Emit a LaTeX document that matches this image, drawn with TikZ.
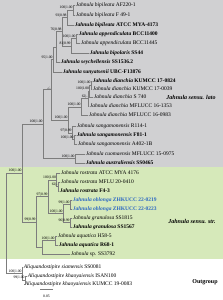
\documentclass[tikz,border=0pt]{standalone}
\usepackage{fontspec}
\setmainfont{Liberation Serif}
\usepackage{xcolor}
\usetikzlibrary{positioning}
\definecolor{latobg}{RGB}{208,208,210}
\definecolor{strictbg}{RGB}{214,233,186}
\definecolor{branchgray}{RGB}{125,125,125}
\definecolor{newblue}{RGB}{45,105,195}

\begin{document}
\begin{tikzpicture}[x=2pt,y=-2pt,
  branch/.style={draw=branchgray,line width=0.8pt},
  taxon/.style={anchor=west,inner xsep=1.5pt,inner ysep=0pt,font=\fontsize{11}{12}\selectfont},
  keytaxon/.style={taxon,font=\fontsize{11}{12}\selectfont\bfseries},
  newtaxon/.style={keytaxon,text=newblue},
  supp/.style={anchor=south east,inner sep=0.6pt,font=\fontsize{7.5}{8}\selectfont},
  cladelab/.style={font=\fontsize{12}{14}\selectfont\bfseries\itshape}]

  % shaded clades
  \fill[latobg] (0,0) rectangle (223,167);
  \fill[strictbg] (0,167) rectangle (223,259);
  \useasboundingbox (0,0) rectangle (223,300);

  % taxa, Jahnula sensu lato
  \node[taxon]    (bip1) at (75,5)   {\textit{Jahnula bipileata} AF220-1};
  \node[taxon]    (bip2) at (75,15)  {\textit{Jahnula bipileata} F 49-1};
  \node[keytaxon] (bip3) at (74,25)  {\textit{Jahnula bipileata} ATCC MYA-4173};
  \node[keytaxon] (app1) at (78,34)  {\textit{Jahnula appendiculata} BCC11400};
  \node[taxon]    (app2) at (80,43)  {\textit{Jahnula appendiculata} BCC11445};
  \node[keytaxon] (bipo) at (89,53)  {\textit{Jahnula bipolaris} SS44};
  \node[keytaxon] (sey)  at (60,62)  {\textit{Jahnula seychellensis} SS1536.2};
  \node[keytaxon] (sun)  at (62,72)  {\textit{Jahnula sunyatsenii} UBC-F13876};
  \node[keytaxon] (dia1) at (92,81)  {\textit{Jahnula dianchia} KUMCC 17-0824};
  \node[taxon]    (dia2) at (92,89)  {\textit{Jahnula dianchia} KUMCC 17-0039};
  \node[taxon]    (dia3) at (93,97)  {\textit{Jahnula dianchia} S 740};
  \node[taxon]    (dia4) at (89,106) {\textit{Jahnula dianchia} MFLUCC 16-1353};
  \node[taxon]    (dia5) at (88,115) {\textit{Jahnula dianchia} MFLUCC 16-0983};
  \node[taxon]    (san1) at (76,126) {\textit{Jahnula sangamonensis} R114-1};
  \node[keytaxon] (san2) at (76,135) {\textit{Jahnula sangamonensis} F81-1};
  \node[taxon]    (san3) at (77,144) {\textit{Jahnula sangamonensis} A402-1B};
  \node[taxon]    (cuo)  at (85,154) {\textit{Jahnula cuomaensis} MFLUCC 15-0975};
  \node[keytaxon] (aus)  at (85,163) {\textit{Jahnula australiensis} SS0465};

  % taxa, Jahnula sensu stricto
  \node[taxon]    (ros1) at (60,173) {\textit{Jahnula rostrata} ATCC MYA 4176};
  \node[taxon]    (ros2) at (60,182) {\textit{Jahnula rostrata} MFLU 20-0410};
  \node[keytaxon] (ros3) at (59,191) {\textit{Jahnula rostrata} F4-3};
  \node[newtaxon] (obl1) at (72,200) {\textit{Jahnula oblonga} ZHKUCC 22-0219};
  \node[newtaxon] (obl2) at (72,209) {\textit{Jahnula oblonga} ZHKUCC 22-0223};
  \node[taxon]    (gra1) at (72,218) {\textit{Jahnula granulosa} SS1815};
  \node[keytaxon] (gra2) at (72,227) {\textit{Jahnula granulosa} SS1567};
  \node[taxon]    (aqu1) at (57,236) {\textit{Jahnula aquatica} H58-5};
  \node[keytaxon] (aqu2) at (58,245) {\textit{Jahnula aquatica} R68-1};
  \node[taxon]    (jsp)  at (70,254) {\textit{Jahnula} sp. SS3792};

  % taxa, outgroup
  \node[taxon] (ali1) at (23,267) {\textit{Aliquandostipite siamensis} SS0081};
  \node[taxon] (ali2) at (27,276) {\textit{Aliquandostipite khaoyaiensis} ISAN100};
  \node[taxon] (ali3) at (24,284) {\textit{Aliquandostipite khaoyaiensis} KUMCC 19-0083};

  % internal nodes
  \coordinate (nBipA)    at (73,10);
  \coordinate (nBipB)    at (67,17.5);
  \coordinate (nApp)     at (76,38.5);
  \coordinate (nAppBipo) at (71,45.75);
  \coordinate (nBip)     at (62,31.6);
  \coordinate (nSey)     at (56,46.8);
  \coordinate (nSun)     at (53,59.4);
  \coordinate (nDiaA)    at (91,85);
  \coordinate (nDiaB)    at (89.5,91);
  \coordinate (nDiaC)    at (88,98.5);
  \coordinate (nDia)     at (81,106.75);
  \coordinate (nSanA)    at (74,139.5);
  \coordinate (nSan)     at (72,132.75);
  \coordinate (nDS)      at (68,119.75);
  \coordinate (nLatoA)   at (51,89.6);
  \coordinate (nCuo)     at (75,158.5);
  \coordinate (nLato)    at (43,124);
  \coordinate (nRosA)    at (58,186.5);
  \coordinate (nRos)     at (56.5,179.75);
  \coordinate (nObl)     at (70,204.5);
  \coordinate (nGra)     at (70,222.5);
  \coordinate (nOG)      at (63,213.5);
  \coordinate (nStrA)    at (48,196.6);
  \coordinate (nAqu)     at (55,240.5);
  \coordinate (nAquSp)   at (42,247.25);
  \coordinate (nStr)     at (36,221.9);
  \coordinate (nJah)     at (22,173);
  \coordinate (nAliA)    at (25,280);
  \coordinate (nAli)     at (22,273.5);
  \coordinate (nRoot)    at (6,223.2);

  % branches
  \foreach \p/\c in {nBipA/bip1,nBipA/bip2,nBipB/nBipA,nBipB/bip3,
                     nApp/app1,nApp/app2,nAppBipo/nApp,nAppBipo/bipo,
                     nBip/nBipB,nBip/nAppBipo,nSey/nBip,nSey/sey,
                     nSun/nSey,nSun/sun,
                     nDiaA/dia1,nDiaA/dia2,nDiaB/nDiaA,nDiaB/dia3,
                     nDiaC/nDiaB,nDiaC/dia4,nDia/nDiaC,nDia/dia5,
                     nSanA/san2,nSanA/san3,nSan/san1,nSan/nSanA,
                     nDS/nDia,nDS/nSan,nLatoA/nSun,nLatoA/nDS,
                     nCuo/cuo,nCuo/aus,nLato/nLatoA,nLato/nCuo,
                     nRosA/ros2,nRosA/ros3,nRos/ros1,nRos/nRosA,
                     nObl/obl1,nObl/obl2,nGra/gra1,nGra/gra2,
                     nOG/nObl,nOG/nGra,nStrA/nRos,nStrA/nOG,
                     nAqu/aqu1,nAqu/aqu2,nAquSp/nAqu,nAquSp/jsp,
                     nStr/nStrA,nStr/nAquSp,nJah/nLato,nJah/nStr,
                     nAliA/ali2,nAliA/ali3,nAli/ali1,nAli/nAliA,
                     nRoot/nJah,nRoot/nAli}
    \draw[branch] (\p) |- (\c);

  % support values (ML bootstrap | posterior probability)
  \foreach \n/\v in {nBipA/100|1.00,nBipB/93|0.98,nApp/100|1.00,
                     nAppBipo/81|0.99,nBip/76|0.98,nSun/95|1.00,
                     nLatoA/{-/-},nDiaA/100|1.00,nDiaB/100|1.00,nDiaC/62|-,
                     nDia/100|1.00,nDS/100|1.00,nSan/97|0.99,nSanA/100|1.00,
                     nLato/100|1.00,nCuo/100|1.00,nJah/100|1.00,
                     nRos/100|1.00,nRosA/62|-,nStrA/97|0.99,nObl/99|1.00,
                     nOG/100|1.00,nStr/99|0.99,nGra/96|0.99,nAqu/100|1.00,
                     nAli/100|1.00,nAliA/99|1.00}
    \node[supp] (s\n) at (\n) {\v};

  % clade names
  \node[cladelab] (lato)   at (191,97)  {Jahnula sensu. lato};
  \node[cladelab] (strict) at (192,221) {Jahnula sensu. str.};
  \node[font=\fontsize{12}{14}\selectfont\bfseries] (outg) at (205,282) {Outgroup};

  % scale bar
  \coordinate (bar0) at (40,289);
  \coordinate (bar1) at (53,289);
  \draw[branch] (bar0) -- (bar1);
  \node[font=\fontsize{7.5}{8}\selectfont] (barlab) at (46.5,296) {0.05};
\end{tikzpicture}
\end{document}
